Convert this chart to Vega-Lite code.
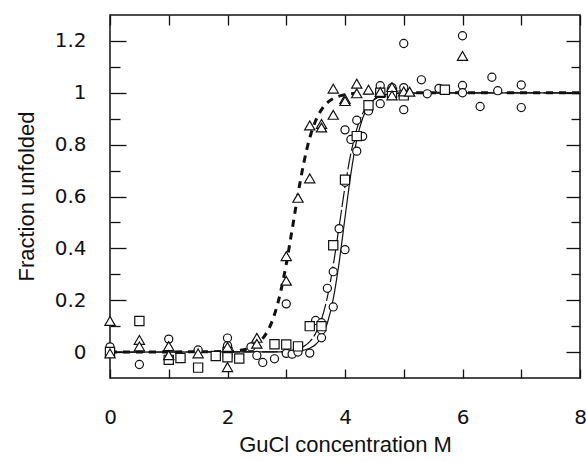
{
  "$schema": "https://vega.github.io/schema/vega-lite/v6.json",
  "width": 470,
  "height": 363,
  "autosize": {"type": "none"},
  "padding": {"left": 110, "top": 15, "right": 6, "bottom": 83},
  "background": "white",
  "config": {
    "view": {"stroke": "#111", "strokeWidth": 1.5},
    "axis": {
      "domain": false, "grid": false, "tickColor": "#111", "tickWidth": 1.3,
      "labelFont": "DejaVu Sans", "labelFontSize": 20, "labelColor": "#111",
      "labelOverlap": false, "labelFlush": false, "labelBound": false,
      "titleFont": "Liberation Sans", "titleFontSize": 22, "titleFontWeight": "normal", "titleColor": "#111"
    }
  },
  "datasets": {
    "pts": [
      {"s": "C", "conc": 0, "frac": 0.02}, {"s": "C", "conc": 0.5, "frac": -0.048}, {"s": "C", "conc": 1, "frac": 0.05},
      {"s": "C", "conc": 1.5, "frac": 0.008}, {"s": "C", "conc": 2, "frac": 0.054}, {"s": "C", "conc": 2, "frac": 0.025},
      {"s": "C", "conc": 2.4, "frac": 0.02}, {"s": "C", "conc": 2.5, "frac": -0.013}, {"s": "C", "conc": 2.6, "frac": -0.04},
      {"s": "C", "conc": 2.8, "frac": -0.026}, {"s": "C", "conc": 3.0, "frac": -0.005}, {"s": "C", "conc": 3.0, "frac": 0.186},
      {"s": "C", "conc": 3.1, "frac": -0.008}, {"s": "C", "conc": 3.2, "frac": 0.0}, {"s": "C", "conc": 3.4, "frac": -0.004},
      {"s": "C", "conc": 3.5, "frac": 0.122}, {"s": "C", "conc": 3.6, "frac": 0.113}, {"s": "C", "conc": 3.6, "frac": 0.085},
      {"s": "C", "conc": 3.6, "frac": 0.055}, {"s": "C", "conc": 3.7, "frac": 0.246}, {"s": "C", "conc": 3.8, "frac": 0.174},
      {"s": "C", "conc": 3.8, "frac": 0.31}, {"s": "C", "conc": 3.9, "frac": 0.476}, {"s": "C", "conc": 4.0, "frac": 0.395},
      {"s": "C", "conc": 4.0, "frac": 0.655}, {"s": "C", "conc": 4.1, "frac": 0.82}, {"s": "C", "conc": 4.2, "frac": 0.775},
      {"s": "C", "conc": 4.0, "frac": 0.857}, {"s": "C", "conc": 4.2, "frac": 0.894}, {"s": "C", "conc": 4.3, "frac": 0.832},
      {"s": "C", "conc": 4.4, "frac": 0.93}, {"s": "C", "conc": 4.6, "frac": 0.958}, {"s": "C", "conc": 4.6, "frac": 1.027},
      {"s": "C", "conc": 4.8, "frac": 1.02}, {"s": "C", "conc": 5.0, "frac": 1.02}, {"s": "C", "conc": 5.0, "frac": 0.935},
      {"s": "C", "conc": 5.0, "frac": 1.19}, {"s": "C", "conc": 5.3, "frac": 1.05}, {"s": "C", "conc": 5.4, "frac": 0.996},
      {"s": "C", "conc": 5.6, "frac": 1.017}, {"s": "C", "conc": 6.0, "frac": 1.22}, {"s": "C", "conc": 6.0, "frac": 1.028},
      {"s": "C", "conc": 6.0, "frac": 1.0}, {"s": "C", "conc": 6.3, "frac": 0.947}, {"s": "C", "conc": 6.5, "frac": 1.06},
      {"s": "C", "conc": 6.6, "frac": 1.008}, {"s": "C", "conc": 7.0, "frac": 1.03}, {"s": "C", "conc": 7.0, "frac": 0.943},
      {"s": "S", "conc": 0, "frac": 0.0}, {"s": "S", "conc": 0.5, "frac": 0.12}, {"s": "S", "conc": 1, "frac": -0.03},
      {"s": "S", "conc": 1.2, "frac": -0.023}, {"s": "S", "conc": 1.5, "frac": -0.06}, {"s": "S", "conc": 1.8, "frac": -0.015},
      {"s": "S", "conc": 2, "frac": 0.0}, {"s": "S", "conc": 2, "frac": -0.02}, {"s": "S", "conc": 2.2, "frac": -0.025},
      {"s": "S", "conc": 2.8, "frac": 0.03}, {"s": "S", "conc": 3.0, "frac": 0.029}, {"s": "S", "conc": 3.2, "frac": 0.022},
      {"s": "S", "conc": 3.4, "frac": 0.1}, {"s": "S", "conc": 3.6, "frac": 0.1}, {"s": "S", "conc": 3.8, "frac": 0.412},
      {"s": "S", "conc": 4.0, "frac": 0.665}, {"s": "S", "conc": 4.2, "frac": 0.833}, {"s": "S", "conc": 4.4, "frac": 0.952},
      {"s": "S", "conc": 4.6, "frac": 1.0}, {"s": "S", "conc": 4.8, "frac": 1.0}, {"s": "S", "conc": 5.0, "frac": 0.99},
      {"s": "S", "conc": 5.7, "frac": 1.012},
      {"s": "T", "conc": 0, "frac": 0.12}, {"s": "T", "conc": 0, "frac": -0.005}, {"s": "T", "conc": 0.5, "frac": 0.047},
      {"s": "T", "conc": 0.5, "frac": 0.022}, {"s": "T", "conc": 1, "frac": 0.023}, {"s": "T", "conc": 1, "frac": -0.012},
      {"s": "T", "conc": 1.5, "frac": -0.005}, {"s": "T", "conc": 2, "frac": 0.02}, {"s": "T", "conc": 2, "frac": -0.058},
      {"s": "T", "conc": 2.5, "frac": 0.055}, {"s": "T", "conc": 2.5, "frac": 0.032}, {"s": "T", "conc": 3.0, "frac": 0.37},
      {"s": "T", "conc": 3.0, "frac": 0.275}, {"s": "T", "conc": 3.2, "frac": 0.595}, {"s": "T", "conc": 3.4, "frac": 0.67},
      {"s": "T", "conc": 3.4, "frac": 0.874}, {"s": "T", "conc": 3.6, "frac": 0.88}, {"s": "T", "conc": 3.6, "frac": 0.866},
      {"s": "T", "conc": 3.8, "frac": 0.915}, {"s": "T", "conc": 3.8, "frac": 1.016}, {"s": "T", "conc": 4.0, "frac": 0.976},
      {"s": "T", "conc": 4.0, "frac": 0.968}, {"s": "T", "conc": 4.2, "frac": 1.035}, {"s": "T", "conc": 4.2, "frac": 0.998},
      {"s": "T", "conc": 4.4, "frac": 1.012}, {"s": "T", "conc": 4.6, "frac": 1.003}, {"s": "T", "conc": 4.8, "frac": 1.022},
      {"s": "T", "conc": 4.8, "frac": 0.99}, {"s": "T", "conc": 5.0, "frac": 1.005}, {"s": "T", "conc": 5.1, "frac": 1.004},
      {"s": "T", "conc": 6.0, "frac": 1.142}
    ],
    "fits": [
      {"curve": "T", "conc": 0, "frac": 0}, {"curve": "T", "conc": 2.0, "frac": 0.002}, {"curve": "T", "conc": 2.2, "frac": 0.006},
      {"curve": "T", "conc": 2.4, "frac": 0.018}, {"curve": "T", "conc": 2.5, "frac": 0.031}, {"curve": "T", "conc": 2.6, "frac": 0.053},
      {"curve": "T", "conc": 2.7, "frac": 0.088}, {"curve": "T", "conc": 2.8, "frac": 0.145}, {"curve": "T", "conc": 2.9, "frac": 0.228},
      {"curve": "T", "conc": 3.0, "frac": 0.339}, {"curve": "T", "conc": 3.1, "frac": 0.472}, {"curve": "T", "conc": 3.2, "frac": 0.609},
      {"curve": "T", "conc": 3.3, "frac": 0.731}, {"curve": "T", "conc": 3.4, "frac": 0.826}, {"curve": "T", "conc": 3.5, "frac": 0.892},
      {"curve": "T", "conc": 3.6, "frac": 0.935}, {"curve": "T", "conc": 3.7, "frac": 0.962}, {"curve": "T", "conc": 3.8, "frac": 0.978},
      {"curve": "T", "conc": 3.9, "frac": 0.987}, {"curve": "T", "conc": 4.0, "frac": 0.993}, {"curve": "T", "conc": 4.2, "frac": 0.998},
      {"curve": "T", "conc": 4.5, "frac": 1.0}, {"curve": "T", "conc": 8, "frac": 1.0},
      {"curve": "S", "conc": 0, "frac": 0}, {"curve": "S", "conc": 2.8, "frac": 0.001}, {"curve": "S", "conc": 3.0, "frac": 0.003},
      {"curve": "S", "conc": 3.2, "frac": 0.012}, {"curve": "S", "conc": 3.3, "frac": 0.022}, {"curve": "S", "conc": 3.4, "frac": 0.04},
      {"curve": "S", "conc": 3.5, "frac": 0.072}, {"curve": "S", "conc": 3.6, "frac": 0.126}, {"curve": "S", "conc": 3.7, "frac": 0.212},
      {"curve": "S", "conc": 3.8, "frac": 0.335}, {"curve": "S", "conc": 3.9, "frac": 0.484}, {"curve": "S", "conc": 4.0, "frac": 0.637},
      {"curve": "S", "conc": 4.1, "frac": 0.766}, {"curve": "S", "conc": 4.2, "frac": 0.86}, {"curve": "S", "conc": 4.3, "frac": 0.92},
      {"curve": "S", "conc": 4.4, "frac": 0.955}, {"curve": "S", "conc": 4.5, "frac": 0.976}, {"curve": "S", "conc": 4.6, "frac": 0.987},
      {"curve": "S", "conc": 4.8, "frac": 0.996}, {"curve": "S", "conc": 5.0, "frac": 0.999}, {"curve": "S", "conc": 8, "frac": 1.0},
      {"curve": "C", "conc": 0, "frac": 0}, {"curve": "C", "conc": 3.0, "frac": 0.001}, {"curve": "C", "conc": 3.2, "frac": 0.0035},
      {"curve": "C", "conc": 3.4, "frac": 0.015}, {"curve": "C", "conc": 3.5, "frac": 0.029}, {"curve": "C", "conc": 3.6, "frac": 0.058},
      {"curve": "C", "conc": 3.7, "frac": 0.112}, {"curve": "C", "conc": 3.8, "frac": 0.205}, {"curve": "C", "conc": 3.9, "frac": 0.345},
      {"curve": "C", "conc": 4.0, "frac": 0.518}, {"curve": "C", "conc": 4.1, "frac": 0.687}, {"curve": "C", "conc": 4.2, "frac": 0.818},
      {"curve": "C", "conc": 4.3, "frac": 0.902}, {"curve": "C", "conc": 4.4, "frac": 0.949}, {"curve": "C", "conc": 4.5, "frac": 0.974},
      {"curve": "C", "conc": 4.6, "frac": 0.987}, {"curve": "C", "conc": 4.8, "frac": 0.997}, {"curve": "C", "conc": 5.0, "frac": 0.999},
      {"curve": "C", "conc": 8, "frac": 1.0}
    ]
  },
  "resolve": {"axis": {"x": "independent", "y": "independent"}},
  "layer": [
    {
      "data": {"name": "fits"},
      "transform": [{"filter": "datum.curve === 'C'"}],
      "mark": {"type": "line", "color": "#111", "strokeWidth": 1.2, "interpolate": "monotone"},
      "encoding": {
        "x": {"field": "conc", "type": "quantitative", "scale": {"domain": [0, 8], "nice": false, "zero": false},
          "axis": {"orient": "bottom", "values": [0, 1, 2, 3, 4, 5, 6, 7, 8], "tickSize": -9, "labelPadding": 38, "format": "d",
            "labelExpr": "datum.value % 2 === 0 ? datum.label : ''",
            "title": "GuCl concentration M", "titleY": 66, "titleBaseline": "middle"}},
        "y": {"field": "frac", "type": "quantitative", "scale": {"domain": [-0.1, 1.3], "nice": false, "zero": false},
          "axis": {"orient": "left", "values": [0, 0.2, 0.4, 0.6, 0.8, 1, 1.2], "tickSize": -16, "labelPadding": 40, "format": "~g",
            "title": "Fraction unfolded", "titleX": -84, "titleY": 181, "titleBaseline": "middle", "titleAngle": -90}}
      }
    },
    {
      "data": {"name": "fits"},
      "transform": [{"filter": "datum.curve === 'S'"}],
      "mark": {"type": "line", "color": "#111", "strokeWidth": 1.2, "strokeDash": [16, 3], "interpolate": "monotone"},
      "encoding": {
        "x": {"field": "conc", "type": "quantitative", "scale": {"domain": [0, 8], "nice": false, "zero": false},
          "axis": {"orient": "top", "values": [0, 1, 2, 3, 4, 5, 6, 7, 8], "tickSize": -10, "labels": false, "title": null}},
        "y": {"field": "frac", "type": "quantitative", "scale": {"domain": [-0.1, 1.3], "nice": false, "zero": false},
          "axis": {"orient": "left", "values": [0.1, 0.3, 0.5, 0.7, 0.9, 1.1], "tickSize": -10, "labels": false, "title": null}}
      }
    },
    {
      "data": {"name": "fits"},
      "transform": [{"filter": "datum.curve === 'T'"}],
      "mark": {"type": "line", "color": "#111", "strokeWidth": 3, "strokeDash": [7, 6], "interpolate": "monotone"},
      "encoding": {
        "x": {"field": "conc", "type": "quantitative", "axis": null},
        "y": {"field": "frac", "type": "quantitative",
          "axis": {"orient": "right", "values": [0, 0.2, 0.4, 0.6, 0.8, 1, 1.2], "tickSize": -14, "labels": false, "title": null}}
      }
    },
    {
      "data": {"name": "pts"},
      "transform": [{"filter": "datum.s === 'C'"}],
      "mark": {"type": "point", "shape": "circle", "filled": true, "fill": "white", "stroke": "#111", "strokeWidth": 1.2, "size": 66, "opacity": 1},
      "encoding": {
        "x": {"field": "conc", "type": "quantitative", "axis": null},
        "y": {"field": "frac", "type": "quantitative",
          "axis": {"orient": "right", "values": [0.1, 0.3, 0.5, 0.7, 0.9, 1.1], "tickSize": -9, "labels": false, "title": null}}
      }
    },
    {
      "data": {"name": "pts"},
      "transform": [{"filter": "datum.s === 'S'"}],
      "mark": {"type": "point", "shape": "square", "filled": true, "fill": "white", "stroke": "#111", "strokeWidth": 1.2, "size": 85, "opacity": 1},
      "encoding": {
        "x": {"field": "conc", "type": "quantitative", "axis": null},
        "y": {"field": "frac", "type": "quantitative", "axis": null}
      }
    },
    {
      "data": {"name": "pts"},
      "transform": [{"filter": "datum.s === 'T'"}],
      "mark": {"type": "point", "shape": "triangle-up", "filled": true, "fill": "white", "stroke": "#111", "strokeWidth": 1.2, "size": 105, "opacity": 1},
      "encoding": {
        "x": {"field": "conc", "type": "quantitative", "axis": null},
        "y": {"field": "frac", "type": "quantitative", "axis": null}
      }
    }
  ]
}
